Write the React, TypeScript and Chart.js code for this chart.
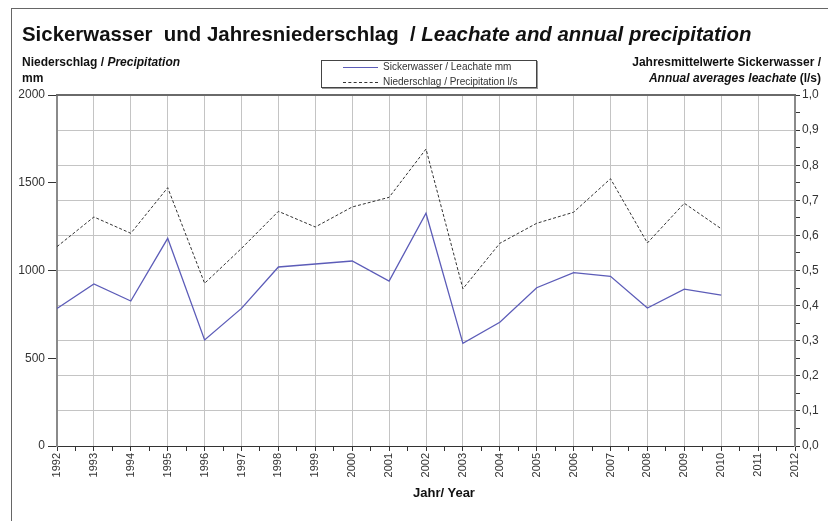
import React, { useEffect, useRef } from "react";
import { Chart, registerables } from "chart.js";

Chart.register(...registerables);

const years = [1992, 1993, 1994, 1995, 1996, 1997, 1998, 1999, 2000, 2001, 2002, 2003, 2004, 2005, 2006, 2007, 2008, 2009, 2010];
const leachate = [784, 923, 826, 1183, 604, 784, 1020, 1037, 1054, 940, 1326, 585, 705, 902, 988, 967, 786, 894, 860];
const precipitation = [1136, 1305, 1212, 1472, 927, 1126, 1337, 1248, 1362, 1417, 1692, 896, 1155, 1269, 1332, 1523, 1157, 1383, 1238];
const xMin = 1992;
const xMax = 2012;
const leftMax = 2000;
const rightMax = 1;

const FONT = "'Liberation Sans', Arial, sans-serif";
const W = 828;
const H = 521;
const AREA = { left: 57, right: 795, top: 95, bottom: 446 };

const borderPlugin = {
  id: "topBorder",
  afterDatasetsDraw(chart: any) {
    const { ctx, chartArea } = chart;
    ctx.save();
    ctx.strokeStyle = "#6a6a6a";
    ctx.lineWidth = 2;
    ctx.beginPath();
    ctx.moveTo(chartArea.left - 1, chartArea.top);
    ctx.lineTo(chartArea.right + 1, chartArea.top);
    ctx.stroke();
    ctx.restore();
  },
};

export default function App() {
  const ref = useRef<HTMLCanvasElement>(null);

  useEffect(() => {
    if (!ref.current) return;
    const chart = new Chart(ref.current, {
      type: "line",
      data: {
        datasets: [
          {
            label: "Sickerwasser / Leachate mm",
            data: years.map((y, i) => ({ x: y, y: leachate[i] })),
            borderColor: "#5c5cb8",
            borderWidth: 1.3,
            pointRadius: 0,
            tension: 0,
            yAxisID: "y",
          },
          {
            label: "Niederschlag / Precipitation l/s",
            data: years.map((y, i) => ({ x: y, y: precipitation[i] })),
            borderColor: "#333333",
            borderWidth: 1,
            borderDash: [3, 2],
            pointRadius: 0,
            tension: 0,
            yAxisID: "y",
          },
        ],
      },
      options: {
        responsive: false,
        animation: false,
        events: [],
        layout: { padding: { left: 0, right: 0, top: AREA.top, bottom: 0 } },
        plugins: { legend: { display: false }, tooltip: { enabled: false }, title: { display: false } },
        scales: {
          x: {
            type: "linear",
            min: xMin,
            max: xMax,
            afterFit(scale: any) {
              scale.height = H - AREA.bottom;
            },
            ticks: {
              stepSize: 0.5,
              autoSkip: false,
              minRotation: 90,
              maxRotation: 90,
              color: "#333",
              padding: 2,
              font: { family: FONT, size: 11 },
              callback: (v: any) => (Number(v) % 1 === 0 ? String(v) : ""),
            },
            grid: {
              color: (c: any) => (c.tick && Number(c.tick.value) % 1 === 0 ? "#c4c4c4" : "rgba(0,0,0,0)"),
              tickColor: "#333",
              tickLength: 5,
              lineWidth: 1,
            },
            border: { color: "#333", width: 1 },
          },
          y: {
            type: "linear",
            position: "left",
            min: 0,
            max: leftMax,
            afterFit(scale: any) {
              scale.width = AREA.left;
            },
            ticks: {
              stepSize: 500,
              color: "#333",
              padding: 3,
              font: { family: FONT, size: 12 },
              callback: (v: any) => String(v),
            },
            grid: { drawOnChartArea: false, tickColor: "#333", tickLength: 9 },
            border: { color: "#8a8a8a", width: 2 },
          },
          y1: {
            type: "linear",
            position: "right",
            min: 0,
            max: rightMax,
            afterFit(scale: any) {
              scale.width = W - AREA.right;
            },
            ticks: {
              stepSize: 0.05,
              autoSkip: false,
              color: "#333",
              padding: 2,
              font: { family: FONT, size: 12 },
              callback: (v: any) => (Math.round(Number(v) * 100) % 10 === 0 ? Number(v).toFixed(1).replace(".", ",") : ""),
            },
            grid: {
              color: (c: any) => (c.tick && Math.round(Number(c.tick.value) * 100) % 10 === 0 ? "#c4c4c4" : "rgba(0,0,0,0)"),
              tickColor: "#333",
              tickLength: 5,
            },
            border: { color: "#8a8a8a", width: 2 },
          },
        },
      },
      plugins: [borderPlugin],
    } as any);
    return () => chart.destroy();
  }, []);

  const txt: React.CSSProperties = { position: "absolute", fontFamily: FONT, color: "#111", lineHeight: 1, whiteSpace: "nowrap" };

  return (
    <div style={{ position: "absolute", left: 0, top: 0, width: W, height: H, overflow: "hidden", background: "#fff" }}>
      <canvas ref={ref} width={W} height={H} style={{ position: "absolute", left: 0, top: 0, width: W, height: H }} />
      <div style={{ position: "absolute", left: 11, top: 8, width: W, height: H, borderLeft: "1px solid #666", borderTop: "1px solid #666" }} />
      <div style={{ ...txt, left: 22, top: 23, fontSize: 21, fontWeight: "bold", transform: "scaleX(0.972)", transformOrigin: "left top" }}>
        Sickerwasser&nbsp; und Jahresniederschlag&nbsp; / <i>Leachate and annual precipitation</i>
      </div>
      <div style={{ ...txt, left: 22, top: 56, fontSize: 12, fontWeight: "bold" }}>
        Niederschlag / <i>Precipitation</i>
      </div>
      <div style={{ ...txt, left: 22, top: 72, fontSize: 12, fontWeight: "bold" }}>mm</div>
      <div style={{ ...txt, right: 7, top: 56, fontSize: 12, fontWeight: "bold", textAlign: "right" }}>
        Jahresmittelwerte Sickerwasser /
      </div>
      <div style={{ ...txt, right: 7, top: 72, fontSize: 12, fontWeight: "bold", textAlign: "right" }}>
        <i>Annual averages leachate</i> (l/s)
      </div>
      <div style={{ ...txt, left: 413, top: 486, fontSize: 13, fontWeight: "bold" }}>Jahr/ Year</div>
      <div
        style={{
          position: "absolute",
          left: 321,
          top: 60,
          width: 214,
          height: 26,
          border: "1px solid #444",
          boxShadow: "1px 1px 0 #999",
          background: "#fff",
        }}
      >
        <div style={{ position: "absolute", left: 21, top: 6, width: 35, borderTop: "1.3px solid #5c5cb8" }} />
        <div style={{ ...txt, left: 61, top: 1, fontSize: 10, color: "#333" }}>Sickerwasser / Leachate mm</div>
        <div style={{ position: "absolute", left: 21, top: 21, width: 35, borderTop: "1px dashed #333" }} />
        <div style={{ ...txt, left: 61, top: 16, fontSize: 10, color: "#333" }}>Niederschlag / Precipitation l/s</div>
      </div>
    </div>
  );
}
